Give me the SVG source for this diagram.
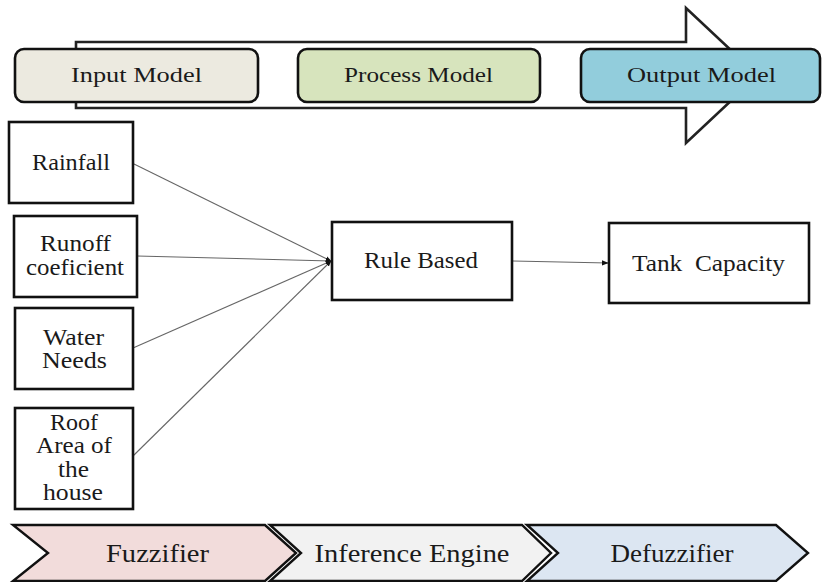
<svg xmlns="http://www.w3.org/2000/svg" width="822" height="582" viewBox="0 0 822 582">
<style>
text{font-family:"Liberation Serif","Times New Roman",serif;fill:#1a1a1a;text-anchor:middle}
.top{font-size:22px}
.box{font-size:23px}
.bot{font-size:25px}
.rect{fill:#fff;stroke:#111;stroke-width:2.6}
.rr{stroke:#111;stroke-width:2.6}
.chev{stroke:#111;stroke-width:2.4;stroke-linejoin:miter}
.conn{stroke:#666;stroke-width:1.1;fill:none}
</style>
<defs>
<marker id="dot" viewBox="0 0 10 10" refX="9" refY="5" markerWidth="6" markerHeight="6" orient="auto" markerUnits="userSpaceOnUse">
<path d="M0,1 L10,5 L0,9 Z" fill="#111"/>
</marker>
<marker id="arr" viewBox="0 0 10 10" refX="9" refY="5" markerWidth="7" markerHeight="7" orient="auto" markerUnits="userSpaceOnUse">
<path d="M0,1 L10,5 L0,9 Z" fill="#111"/>
</marker>
</defs>
<rect width="822" height="582" fill="#fff"/>
<g id="big-arrow">
<path d="M76,42 H686 V8 L758,75.5 L686,143 V108 H76 Z" fill="#fff" stroke="#222" stroke-width="2.6" stroke-linejoin="miter"/>
</g>
<g id="input-model">
<rect class="rr" x="15" y="49" width="243" height="53" rx="9" fill="#ECEAE0"/>
<text class="top" x="136.5" y="82" textLength="131" lengthAdjust="spacingAndGlyphs">Input Model</text>
</g>
<g id="process-model">
<rect class="rr" x="298" y="49" width="242" height="53" rx="9" fill="#D7E4BD"/>
<text class="top" x="418.5" y="82" textLength="149" lengthAdjust="spacingAndGlyphs">Process Model</text>
</g>
<g id="output-model">
<rect class="rr" x="581" y="49" width="239" height="53" rx="9" fill="#92CDDC"/>
<text class="top" x="701.5" y="82" textLength="149" lengthAdjust="spacingAndGlyphs">Output Model</text>
</g>
<g id="connectors">
<line class="conn" x1="134" y1="164" x2="331" y2="261" marker-end="url(#dot)"/>
<line class="conn" x1="137" y1="256" x2="331" y2="261" marker-end="url(#dot)"/>
<line class="conn" x1="133" y1="348" x2="331" y2="261" marker-end="url(#dot)"/>
<line class="conn" x1="133" y1="456" x2="331" y2="261" marker-end="url(#dot)"/>
<line class="conn" x1="513" y1="261" x2="608" y2="263" marker-end="url(#arr)"/>
</g>
<g id="rainfall">
<rect class="rect" x="9" y="122" width="124" height="81"/>
<text class="box" x="71" y="170" textLength="78" lengthAdjust="spacingAndGlyphs">Rainfall</text>
</g>
<g id="runoff">
<rect class="rect" x="14" y="216" width="123" height="81"/>
<text class="box" x="75.5" y="251" textLength="71" lengthAdjust="spacingAndGlyphs">Runoff</text>
<text class="box" x="75" y="275" textLength="98" lengthAdjust="spacingAndGlyphs">coeficient</text>
</g>
<g id="water-needs">
<rect class="rect" x="15" y="308" width="118" height="81"/>
<text class="box" x="73.5" y="345" textLength="61" lengthAdjust="spacingAndGlyphs">Water</text>
<text class="box" x="74.5" y="368" textLength="65" lengthAdjust="spacingAndGlyphs">Needs</text>
</g>
<g id="roof-area">
<rect class="rect" x="15" y="408" width="118" height="101"/>
<text class="box" x="74" y="430" textLength="48" lengthAdjust="spacingAndGlyphs">Roof</text>
<text class="box" x="74" y="453" textLength="76" lengthAdjust="spacingAndGlyphs">Area of</text>
<text class="box" x="73.5" y="477" textLength="31" lengthAdjust="spacingAndGlyphs">the</text>
<text class="box" x="73" y="500" textLength="60" lengthAdjust="spacingAndGlyphs">house</text>
</g>
<g id="rule-based">
<rect class="rect" x="332" y="222" width="180" height="78"/>
<text class="box" x="421" y="268" textLength="114" lengthAdjust="spacingAndGlyphs">Rule Based</text>
</g>
<g id="tank-capacity">
<rect class="rect" x="609" y="223" width="200" height="80"/>
<text class="box" x="708.5" y="271" xml:space="preserve" textLength="153" lengthAdjust="spacingAndGlyphs">Tank  Capacity</text>
</g>
<g id="fuzzifier">
<path class="chev" d="M13,525 H265 L296,553 L265,581 H13 L48,553 Z" fill="#F2DCDB"/>
<text class="bot" x="157.5" y="562" textLength="103" lengthAdjust="spacingAndGlyphs">Fuzzifier</text>
</g>
<g id="inference-engine">
<path class="chev" d="M270,525 H522 L551,553 L522,581 H270 L301,553 Z" fill="#F2F2F2"/>
<text class="bot" x="412" y="562" textLength="195" lengthAdjust="spacingAndGlyphs">Inference Engine</text>
</g>
<g id="defuzzifier">
<path class="chev" d="M527,525 H776 L808,553 L776,581 H527 L558,553 Z" fill="#DCE6F2"/>
<text class="bot" x="672" y="562" textLength="123" lengthAdjust="spacingAndGlyphs">Defuzzifier</text>
</g>
</svg>
